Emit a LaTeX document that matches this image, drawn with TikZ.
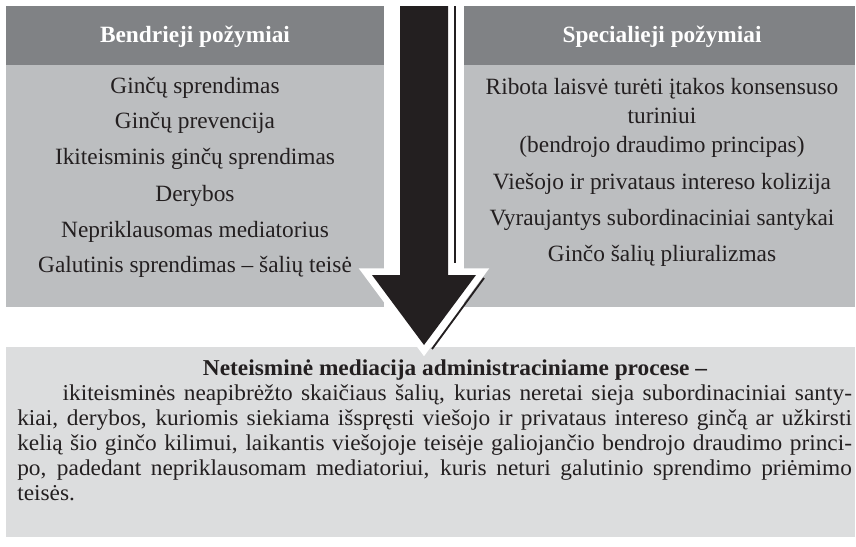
\documentclass[tikz,border=0pt]{standalone}
\usepackage{fontspec}
\setmainfont{Liberation Serif}
\newfontfamily\widefont[FakeStretch=1.03]{Liberation Serif}
\usetikzlibrary{positioning}

\definecolor{hdrgray}{HTML}{808285}
\definecolor{bodygray}{HTML}{BCBEC0}
\definecolor{maingray}{HTML}{DCDDDE}
\definecolor{arrowblack}{HTML}{231F20}

\begin{document}
\begin{tikzpicture}[
    x=0.75pt, y=-0.75pt,
    header/.style={font=\fontsize{17.5}{21}\selectfont\bfseries, text=white, inner sep=0pt},
    item/.style={font=\fontsize{17.5}{21.75}\selectfont, text=arrowblack, inner sep=0pt, align=center},
    mtitle/.style={font=\widefont\fontsize{17}{18.75}\selectfont\bfseries, text=arrowblack, inner sep=0pt},
    mtext/.style={font=\widefont\fontsize{17}{18.75}\selectfont, text=arrowblack, inner sep=0pt, text width=626pt, align=justify},
    shadow/.style={arrowblack, line width=1.4pt}
]
\useasboundingbox (0,0) rectangle (856,546);

% Boxes
\fill[bodygray] (6,6) rectangle (384,307);
\fill[hdrgray] (6,6) rectangle (384,65);
\fill[bodygray] (464,6) rectangle (855,307);
\fill[hdrgray] (464,6) rectangle (855,65);
\fill[maingray] (6,347) rectangle (855,537);

% Left column
\node[header] (lhead) at (195,37) {Bendrieji požymiai};
\node[item] (l1) at (195,88) {Ginčų sprendimas};
\node[item] (l2) at (195,123) {Ginčų prevencija};
\node[item] (l3) at (195,159) {Ikiteisminis ginčų sprendimas};
\node[item] (l4) at (195,196) {Derybos};
\node[item] (l5) at (195,232) {Nepriklausomas mediatorius};
\node[item] (l6) at (195,267) {Galutinis sprendimas – šalių teisė};

% Right column
\node[header] (rhead) at (662,37) {Specialieji požymiai};
\node[item] (r1) at (662,118) {Ribota laisvė turėti įtakos konsensuso\\turiniui\\(bendrojo draudimo principas)};
\node[item] (r2) at (662,184) {Viešojo ir privataus intereso kolizija};
\node[item] (r3) at (662,220) {Vyraujantys subordinaciniai santykai};
\node[item] (r4) at (662,256) {Ginčo šalių pliuralizmas};

% Big arrow
\draw[white, fill=white, line width=10pt, line join=miter]
    (400,6) -- (400,275) -- (372,275) -- (424,345) -- (476,275) -- (448,275) -- (448,6);
\draw[shadow] (455,6) -- (455,263);
\draw[shadow] (484,278) -- (432,349);
\fill[arrowblack] (400,6) -- (400,275) -- (372,275) -- (424,345) -- (476,275) -- (448,275) -- (448,6) -- cycle;

% Bottom definition
\node[mtitle, anchor=base] (mtitle) at (455,375) {Neteisminė mediacija administraciniame procese –};
\node[mtext, anchor=base west] (mtext) at (17,400) {\hspace*{34pt}ikiteisminės neapibrėžto skaičiaus šalių, kurias neretai sieja subordinaciniai santy-\linebreak kiai, derybos, kuriomis siekiama išspręsti viešojo ir privataus intereso ginčą ar užkirsti kelią šio ginčo kilimui, laikantis viešojoje teisėje galiojančio bendrojo draudimo princi-\linebreak po, padedant nepriklausomam mediatoriui, kuris neturi galutinio sprendimo priėmimo\linebreak teisės.};

\end{tikzpicture}
\end{document}
